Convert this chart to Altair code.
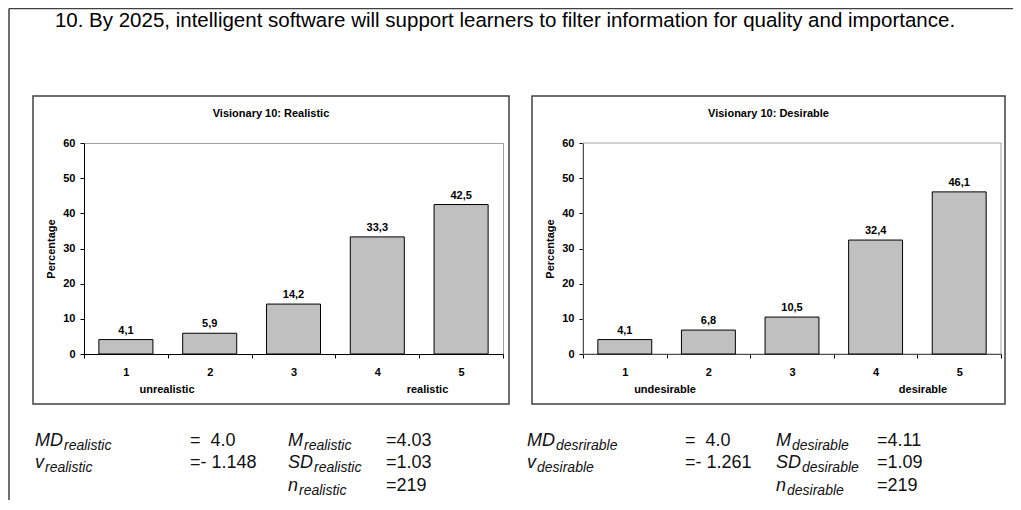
import altair as alt
import pandas as pd

# ---------------- data ----------------
categories = ["1", "2", "3", "4", "5"]
realistic_pct = [4.1, 5.9, 14.2, 33.3, 42.5]
desirable_pct = [4.1, 6.8, 10.5, 32.4, 46.1]
y_tick_values = [0, 10, 20, 30, 40, 50, 60]

main_title = ("10. By 2025, intelligent software will support learners to filter "
              "information for quality and importance.")
panel_titles = ["Visionary 10: Realistic", "Visionary 10: Desirable"]
low_labels = ["unrealistic", "undesirable"]
high_labels = ["realistic", "desirable"]

NB = "\u00a0"
# statistics: (symbol, subscript, value)
stats_left_a = [("MD", "realistic", "= " + NB + "4.0"), ("v", "realistic", "=- 1.148")]
stats_left_b = [("M", "realistic", "=4.03"), ("SD", "realistic", "=1.03"), ("n", "realistic", "=219")]
stats_right_a = [("MD", "desrirable", "= " + NB + "4.0"), ("v", "desirable", "=- 1.261")]
stats_right_b = [("M", "desirable", "=4.11"), ("SD", "desirable", "=1.09"), ("n", "desirable", "=219")]

# ---------------- layout helpers ----------------
FONT = "Liberation Sans, Arial, Helvetica, sans-serif"
OX, OY = 84, 143          # page position of the left plot origin
ONE = pd.DataFrame({"k": [0]})


def px(x):
    return x - OX


def py(y):
    return y - OY


def text_mark(s, x, y, size, align="left", style="normal", weight="normal", color="black"):
    return alt.Chart(ONE).mark_text(
        text=s, align=align, baseline="alphabetic", font=FONT, fontSize=size,
        fontStyle=style, fontWeight=weight, color=color
    ).encode(x=alt.value(x), y=alt.value(y))


def rule(x1, y1, x2, y2, color="#404040", w=1.5):
    return alt.Chart(ONE).mark_rule(color=color, strokeWidth=w).encode(
        x=alt.value(x1), y=alt.value(y1), x2=alt.value(x2), y2=alt.value(y2))


def box(x1, y1, x2, y2, color="#404040", w=1.5):
    return alt.Chart(ONE).mark_rect(fill="white", fillOpacity=0, stroke=color, strokeWidth=w).encode(
        x=alt.value(x1), y=alt.value(y1), x2=alt.value(x2), y2=alt.value(y2))


MAIN_FS = 18
SUB_FS = 14
SYM_W = {"MD": 1.555 * MAIN_FS, "v": 0.5 * MAIN_FS, "M": 0.833 * MAIN_FS,
         "SD": 1.389 * MAIN_FS, "n": 0.556 * MAIN_FS}


def stat_marks(rows, x_sym, x_val, baselines):
    out = []
    for (sym, sub, val), b in zip(rows, baselines):
        out.append(text_mark(sym, px(x_sym), py(b), MAIN_FS, style="italic", color="#111"))
        out.append(text_mark(sub, px(x_sym) + SYM_W[sym] + 1, py(b) + 4, SUB_FS,
                             style="italic", color="#111"))
        out.append(text_mark(val, px(x_val), py(b), MAIN_FS, color="#111"))
    return out


def panel(values, x_range, axis_offset):
    df = pd.DataFrame({"cat": categories, "v": values})
    base = alt.Chart(df).transform_calculate(
        lbl="replace(format(datum.v, '.1f'), '.', ',')")
    x = alt.X(
        "cat:N", sort=categories,
        scale=alt.Scale(domain=categories, range=x_range, paddingInner=0, paddingOuter=0),
        axis=alt.Axis(orient="bottom", title=None, labelAngle=0, tickBand="extent",
                      tickSize=4, labelPadding=8, labelFont=FONT, labelFontSize=11,
                      labelFontWeight="bold", labelColor="black", domainColor="black",
                      tickColor="black", grid=False))
    y = alt.Y(
        "v:Q", scale=alt.Scale(domain=[0, 60], nice=False),
        axis=alt.Axis(orient="left", offset=axis_offset, values=y_tick_values,
                      title="Percentage", titleFont=FONT, titleFontSize=11,
                      titleFontWeight="bold", titleColor="black", titleAngle=270,
                      titleX=-33, titleY=105.5, titleBaseline="middle", titleAlign="center",
                      tickSize=4, labelPadding=5, labelFont=FONT, labelFontSize=11,
                      labelFontWeight="bold", labelColor="black", domainColor="black",
                      tickColor="black", grid=False))
    bars = base.mark_bar(width=alt.RelativeBandSize(0.645), fill="#c0c0c0",
                         stroke="black", strokeWidth=1).encode(x=x, y=y)
    labels = base.mark_text(dy=-6, baseline="alphabetic", font=FONT, fontSize=11,
                            fontWeight="bold", color="black").encode(x=x, y=y, text="lbl:N")
    return alt.layer(bars, labels)


# ---------------- decorations ----------------
decor = [
    # outer slide frame
    rule(px(9), py(8.5), px(1013), py(8.5)),
    rule(px(9), py(8.5), px(9), py(500)),
    # chart area boxes
    box(px(33), py(96), px(509), py(404)),
    box(px(532), py(96), px(1005), py(404)),
    # right plot area border
    box(px(583), py(143), px(1001), py(354), color="#a0a0a0", w=1),
    # titles
    text_mark(main_title, px(505), py(27), 20.5, align="center"),
    text_mark(panel_titles[0], px(271), py(116.5), 11, align="center", weight="bold"),
    text_mark(panel_titles[1], px(768.5), py(116.5), 11, align="center", weight="bold"),
    text_mark(low_labels[0], px(167), py(393), 11, align="center", weight="bold"),
    text_mark(high_labels[0], px(427.5), py(393), 11, align="center", weight="bold"),
    text_mark(low_labels[1], px(665), py(393), 11, align="center", weight="bold"),
    text_mark(high_labels[1], px(923), py(393), 11, align="center", weight="bold"),
]

BL = [446, 468, 491]
decor += stat_marks(stats_left_a, 35, 190, BL[:2])
decor += stat_marks(stats_left_b, 288, 386, BL)
decor += stat_marks(stats_right_a, 527, 685, BL[:2])
decor += stat_marks(stats_right_b, 776, 877, BL)

left = panel(realistic_pct, [0, 419], 0)
right = panel(desirable_pct, [499, 917], -499)

chart = alt.layer(*decor, left, right).resolve_scale(
    x="independent", y="independent"
).properties(
    width=419, height=211,
    padding={"left": 76, "top": 135, "right": 510, "bottom": 146},
    autosize=alt.AutoSizeParams(type="none"),
    background="white",
).configure_view(stroke="#a0a0a0", strokeWidth=1)

chart.save("out.html", embed_options={"renderer": "svg", "actions": False})
